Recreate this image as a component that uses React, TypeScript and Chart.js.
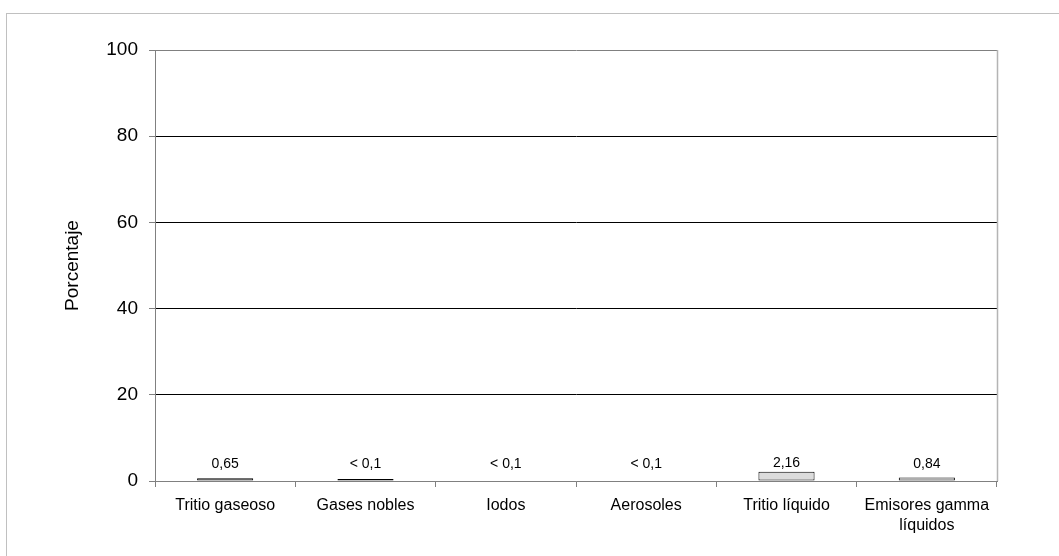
import React, { useEffect, useRef } from "react";
import { Chart, registerables } from "chart.js";

Chart.register(...registerables);

const categories: (string | string[])[] = [
  "Tritio gaseoso",
  "Gases nobles",
  "Iodos",
  "Aerosoles",
  "Tritio líquido",
  ["Emisores gamma", "líquidos"],
];
const percentages = [0.65, 0.05, 0, 0, 2.16, 0.84];
const valueLabels = ["0,65", "< 0,1", "< 0,1", "< 0,1", "2,16", "0,84"];
const yTicks = [0, 20, 40, 60, 80, 100];
const yTitle = "Porcentaje";

const FONT = "'Liberation Sans', Arial, sans-serif";

// Writes the value label above each bar
const barValueLabels = {
  id: "barValueLabels",
  afterDatasetsDraw(chart: any) {
    const { ctx } = chart;
    const meta = chart.getDatasetMeta(0);
    ctx.save();
    ctx.font = `14px ${FONT}`;
    ctx.fillStyle = "#000";
    ctx.textAlign = "center";
    ctx.textBaseline = "middle";
    meta.data.forEach((bar: any, i: number) => {
      const base = chart.scales.y.getPixelForValue(0);
      const y = Math.min(bar.y - 9, base - 17);
      ctx.fillText(valueLabels[i], bar.x, y);
    });
    ctx.restore();
  },
};

// Light frame on the right edge of the plot area
const plotFrame = {
  id: "plotFrame",
  beforeDatasetsDraw(chart: any) {
    const { ctx, chartArea } = chart;
    ctx.save();
    ctx.strokeStyle = "#b4b4b4";
    ctx.lineWidth = 1.5;
    ctx.beginPath();
    ctx.moveTo(chartArea.right + 0.5, chartArea.top);
    ctx.lineTo(chartArea.right + 0.5, chartArea.bottom);
    ctx.stroke();
    ctx.restore();
  },
};

export default function App() {
  const canvasRef = useRef<HTMLCanvasElement | null>(null);

  useEffect(() => {
    if (!canvasRef.current) return;
    const chart = new Chart(canvasRef.current, {
      type: "bar",
      data: {
        labels: categories,
        datasets: [
          {
            data: percentages,
            backgroundColor: (c: any) => (c.raw === 0 ? "rgba(0,0,0,0)" : "#dcdcdc"),
            borderColor: (c: any) => (c.raw === 0 ? "rgba(0,0,0,0)" : "#000"),
            borderWidth: (c: any) => (c.raw === 0 ? 0 : 1),
            borderSkipped: false,
            minBarLength: 2,
            categoryPercentage: 1,
            barPercentage: 0.4,
          },
        ],
      },
      options: {
        responsive: false,
        animation: false,
        layout: { padding: { top: 50, right: 62, left: 0, bottom: 0 } },
        plugins: {
          legend: { display: false },
          tooltip: { enabled: false },
        },
        scales: {
          x: {
            grid: {
              offset: true,
              drawOnChartArea: false,
              drawTicks: true,
              tickLength: 6,
              color: "#808080",
            },
            border: { color: "#808080", width: 1 },
            ticks: {
              color: "#000",
              padding: 9,
              maxRotation: 0,
              autoSkip: false,
              font: { family: FONT, size: 16, lineHeight: 1.25 },
            },
            afterFit: (s: any) => {
              s.height = 75;
            },
          },
          y: {
            min: 0,
            max: 100,
            afterBuildTicks: (s: any) => {
              s.ticks = yTicks.map((v) => ({ value: v }));
            },
            grid: {
              color: (c: any) =>
                c.tick && (c.tick.value === 100 || c.tick.value === 0) ? "#808080" : "#000",
              tickColor: "#808080",
              tickLength: 6,
            },
            border: { color: "#808080", width: 1 },
            ticks: {
              color: "#000",
              padding: 11,
              font: { family: FONT, size: 19 },
            },
            title: {
              display: true,
              text: yTitle,
              color: "#000",
              font: { family: FONT, size: 19 },
              padding: { top: 61, bottom: 0 },
            },
            afterFit: (s: any) => {
              s.width = 155;
            },
          },
        },
      },
      plugins: [plotFrame, barValueLabels],
    });
    return () => chart.destroy();
  }, []);

  return (
    <div
      style={{
        position: "fixed",
        left: 0,
        top: 0,
        width: 1059,
        height: 556,
        overflow: "hidden",
        background: "#fff",
      }}
    >
      <div
        style={{
          position: "absolute",
          left: 6,
          top: 13,
          width: 1100,
          height: 600,
          border: "1.5px solid #c0c0c0",
        }}
      />
      <canvas
        ref={canvasRef}
        width={1059}
        height={556}
        style={{ position: "absolute", left: 0, top: 0 }}
      />
    </div>
  );
}
